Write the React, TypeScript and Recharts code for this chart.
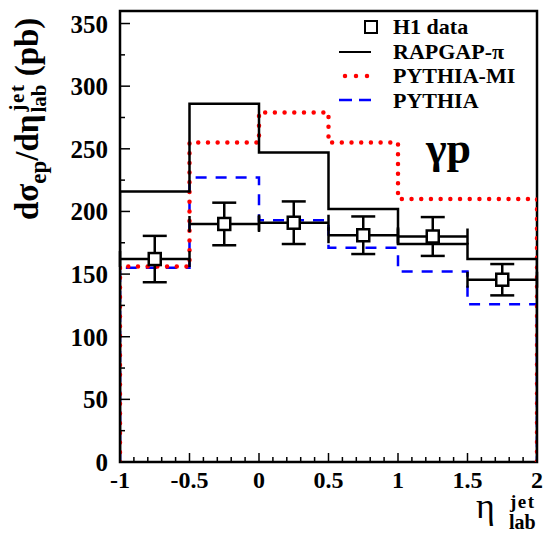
import React from 'react';
import {
  ComposedChart,
  Line,
  Scatter,
  XAxis,
  YAxis,
  ErrorBar,
  ReferenceArea,
  Customized,
} from 'recharts';

// ---- data ----
const binEdges = [-1, -0.5, 0, 0.5, 1, 1.5, 2];
const rapgap = [216, 286, 247, 202, 174, 162];
const pythiaMI = [156, 255, 279, 255, 210, 210];
const pythia = [155, 227, 193, 171, 152, 126];
const dataX = [-0.75, -0.25, 0.25, 0.75, 1.25, 1.75];
const dataY = [162, 190, 191, 181, 180, 145.5];
const dataErr = [18.5, 17, 17, 15, 15.5, 12.5];
const dataXErr = [0.25, 0.25, 0.25, 0.25, 0.25, 0.25];

const xTicks = [
  -1, -0.9, -0.8, -0.7, -0.6, -0.5, -0.4, -0.3, -0.2, -0.1, 0, 0.1, 0.2, 0.3, 0.4, 0.5,
  0.6, 0.7, 0.8, 0.9, 1, 1.1, 1.2, 1.3, 1.4, 1.5, 1.6, 1.7, 1.8, 1.9, 2,
];
const xMajor = [-1, -0.5, 0, 0.5, 1, 1.5, 2];
const yTicks = [0, 25, 50, 75, 100, 125, 150, 175, 200, 225, 250, 275, 300, 325, 350];
const yMajor = [0, 50, 100, 150, 200, 250, 300, 350];

// ---- layout ----
const W = 544;
const H = 534;
const M = { top: 11, right: 7, bottom: 0, left: 0 };
const Y_AXIS_W = 120;
const X_AXIS_H = 72;
const PLOT_LEFT = M.left + Y_AXIS_W;
const PLOT_BOTTOM = H - M.bottom - X_AXIS_H;
const FONT = '"Liberation Serif", "Times New Roman", serif';

const toSteps = (vals: number[]) => {
  const pts: { x: number; y: number }[] = [{ x: binEdges[0], y: 0 }];
  vals.forEach((v, i) => pts.push({ x: binEdges[i], y: v }));
  pts.push({ x: binEdges[binEdges.length - 1], y: vals[vals.length - 1] });
  pts.push({ x: binEdges[binEdges.length - 1], y: 0 });
  return pts;
};

const rapgapSteps = toSteps(rapgap);
const pythiaMISteps = toSteps(pythiaMI);
const pythiaSteps = toSteps(pythia);
const h1Data = dataX.map((x, i) => ({ x, y: dataY[i], ey: dataErr[i], ex: dataXErr[i] }));

const isMajor = (arr: number[], v: number) => arr.some((m) => Math.abs(m - v) < 1e-9);

const XTick = (props: any) => {
  const { x, payload } = props;
  const v = payload.value;
  const major = isMajor(xMajor, v);
  return (
    <g>
      <line x1={x} x2={x} y1={PLOT_BOTTOM} y2={PLOT_BOTTOM - (major ? 9 : 5)} stroke="#000" strokeWidth={1.5} />
      {major && (
        <text x={x} y={PLOT_BOTTOM + 26} textAnchor="middle" fontFamily={FONT} fontWeight="bold" fontSize={24} fill="#000">
          {String(v)}
        </text>
      )}
    </g>
  );
};

const YTick = (props: any) => {
  const { y, payload } = props;
  const v = payload.value;
  const major = isMajor(yMajor, v);
  return (
    <g>
      <line x1={PLOT_LEFT} x2={PLOT_LEFT + (major ? 10 : 5)} y1={y} y2={y} stroke="#000" strokeWidth={1.5} />
      {major && (
        <text x={PLOT_LEFT - 12} y={y + 9} textAnchor="end" fontFamily={FONT} fontWeight="bold" fontSize={25} fill="#000">
          {String(v)}
        </text>
      )}
    </g>
  );
};

const Square = (props: any) => {
  const { cx, cy } = props;
  if (cx == null || cy == null) return null;
  return <rect x={cx - 6} y={cy - 6} width={12} height={12} fill="#fff" stroke="#000" strokeWidth={2.5} />;
};

const Decorations = () => (
  <g fontFamily={FONT} fill="#000">
    {/* legend */}
    <rect x={365} y={21} width={12} height={12} fill="#fff" stroke="#000" strokeWidth={2} />
    <text x={393} y={34} fontSize={22} fontWeight="bold">H1 data</text>
    <line x1={339} x2={371} y1={52} y2={52} stroke="#000" strokeWidth={2} />
    <text x={393} y={58.5} fontSize={22} fontWeight="bold">RAPGAP-π</text>
    <line x1={345} x2={368} y1={76} y2={76} stroke="#ff0000" strokeWidth={4.5} strokeDasharray="0 11" strokeLinecap="round" />
    <text x={393} y={83} fontSize={22} fontWeight="bold">PYTHIA-MI</text>
    <line x1={339} x2={371} y1={100} y2={100} stroke="#0000ff" strokeWidth={2.5} strokeDasharray="13 7" />
    <text x={393} y={108} fontSize={22} fontWeight="bold">PYTHIA</text>
    {/* gamma p */}
    <text x={426} y={163} fontSize={44} fontWeight="bold">γp</text>
    {/* y axis title */}
    <text transform="translate(38,220) rotate(-90)" fontSize={33} fontWeight="bold">
      dσ
      <tspan fontSize={23} dy={8}>ep</tspan>
      <tspan dy={-8}>/dη</tspan>
      <tspan fontSize={21} dx={3} dy={-14} letterSpacing={1.5}>jet</tspan>
      <tspan fontSize={21} dx={-29} dy={22}>lab</tspan>
      <tspan dy={-8}> (pb)</tspan>
    </text>
    {/* x axis title */}
    <text x={476} y={518} fontSize={36}>η</text>
    <text x={510} y={508} fontSize={19} fontWeight="bold" letterSpacing={1.5}>jet</text>
    <text x={509} y={529} fontSize={20} fontWeight="bold">lab</text>
  </g>
);

export default function App() {
  return (
    <div style={{ position: 'absolute', left: 0, top: 0, width: W, height: H, background: '#fff' }}>
      <ComposedChart width={W} height={H} margin={M}>
        <XAxis
          type="number"
          dataKey="x"
          domain={[-1, 2]}
          ticks={xTicks}
          interval={0}
          height={X_AXIS_H}
          axisLine={false}
          tickLine={false}
          tick={<XTick />}
          allowDataOverflow
        />
        <YAxis
          type="number"
          dataKey="y"
          domain={[0, 360]}
          ticks={yTicks}
          interval={0}
          width={Y_AXIS_W}
          axisLine={false}
          tickLine={false}
          tick={<YTick />}
          allowDataOverflow
        />
        <ReferenceArea x1={-1} x2={2} y1={0} y2={360} fill="none" stroke="#000" strokeWidth={2.5} fillOpacity={0} />
        <Line
          data={pythiaSteps}
          dataKey="y"
          type="stepAfter"
          stroke="#0000ff"
          strokeWidth={2.5}
          strokeDasharray="11 9"
          dot={false}
          activeDot={false}
          isAnimationActive={false}
        />
        <Line
          data={pythiaMISteps}
          dataKey="y"
          type="stepAfter"
          stroke="#ff0000"
          strokeWidth={4.5}
          strokeDasharray="0 9.7"
          strokeLinecap="round"
          dot={false}
          activeDot={false}
          isAnimationActive={false}
        />
        <Line
          data={rapgapSteps}
          dataKey="y"
          type="stepAfter"
          stroke="#000"
          strokeWidth={2.5}
          dot={false}
          activeDot={false}
          isAnimationActive={false}
        />
        <Scatter data={h1Data} dataKey="y" shape={<Square />} isAnimationActive={false}>
          <ErrorBar dataKey="ey" direction="y" width={12} stroke="#000" strokeWidth={2.5} />
          <ErrorBar dataKey="ex" direction="x" width={8} stroke="#000" strokeWidth={2.5} />
        </Scatter>
        <Customized component={<Decorations />} />
      </ComposedChart>
    </div>
  );
}
